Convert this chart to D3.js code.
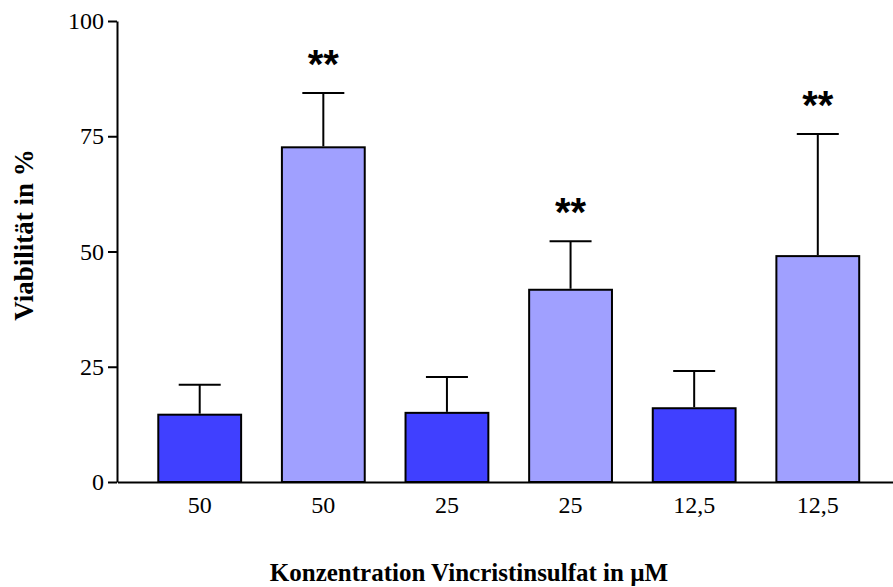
<!DOCTYPE html>
<html>
<head>
<meta charset="utf-8">
<script src="https://cdn.jsdelivr.net/npm/d3@7"></script>
<style>
  body { margin: 0; background: #fff; }
</style>
</head>
<body>
<div class="chart"></div>
<script>
var categories = ["50", "50", "25", "25", "12,5", "12,5"];
var means = [14.6, 72.6, 15.0, 41.7, 16.0, 49.0];
var errors = [6.5, 11.8, 7.8, 10.5, 8.1, 26.5];
var groups = ["dark", "light", "dark", "light", "dark", "light"];
var stars = ["", "**", "", "**", "", "**"];
var yTicks = [0, 25, 50, 75, 100];

var width = 893, height = 587;
var color = d3.scaleOrdinal().domain(["dark", "light"]).range(["#4040FF", "#A0A0FF"]);

var svg = d3.select(".chart").append("svg")
    .attr("width", width)
    .attr("height", height);

var y = d3.scaleLinear().domain([0, 100]).range([482, 21]);
var x = d3.scaleBand()
    .domain(d3.range(categories.length))
    .range([117.5, 900])
    .paddingInner(0.33)
    .paddingOuter(0.33);

var data = means.map(function(m, i) {
    return {i: i, cat: categories[i], mean: m, err: errors[i], group: groups[i], star: stars[i]};
});

// bars
svg.selectAll("rect.bar")
    .data(data)
    .enter().append("rect")
    .attr("class", "bar")
    .attr("x", function(d) { return x(d.i); })
    .attr("y", function(d) { return y(d.mean); })
    .attr("width", x.bandwidth())
    .attr("height", function(d) { return y(0) - y(d.mean); })
    .style("fill", function(d) { return color(d.group); })
    .style("stroke", "#000")
    .style("stroke-width", 2);

// error bars (upper only)
var eb = svg.selectAll("g.err")
    .data(data)
    .enter().append("g")
    .attr("class", "err")
    .attr("transform", function(d) { return "translate(" + (x(d.i) + x.bandwidth() / 2) + ",0)"; });

eb.append("line")
    .attr("x1", 0).attr("x2", 0)
    .attr("y1", function(d) { return y(d.mean) - 1; })
    .attr("y2", function(d) { return y(d.mean + d.err); })
    .style("stroke", "#000").style("stroke-width", 2);

eb.append("line")
    .attr("x1", -21).attr("x2", 21)
    .attr("y1", function(d) { return y(d.mean + d.err); })
    .attr("y2", function(d) { return y(d.mean + d.err); })
    .style("stroke", "#000").style("stroke-width", 2);

eb.append("text")
    .attr("y", function(d) { return y(d.mean + d.err) - 15; })
    .style("text-anchor", "middle")
    .style("font-family", "'Liberation Sans', Arial, sans-serif")
    .style("font-weight", "bold")
    .style("font-size", "40px")
    .text(function(d) { return d.star; });

// axes
var yAxis = svg.append("g")
    .attr("transform", "translate(117,0)")
    .call(d3.axisLeft(y).tickValues(yTicks).tickSize(9).tickSizeOuter(0).tickPadding(4));

var xAxis = svg.append("g")
    .attr("transform", "translate(0," + y(0) + ")")
    .call(d3.axisBottom(x).tickSize(0).tickPadding(14).tickFormat(function(i) { return categories[i]; }));

[yAxis, xAxis].forEach(function(a) {
    a.selectAll("path, line").style("stroke", "#000").style("stroke-width", 2);
    a.selectAll("text")
        .style("font-family", "'Liberation Serif', 'Times New Roman', serif")
        .style("font-size", "24px")
        .style("fill", "#000");
});

// axis titles
svg.append("text")
    .attr("x", 469)
    .attr("y", 581)
    .style("text-anchor", "middle")
    .style("font-family", "'Liberation Serif', 'Times New Roman', serif")
    .style("font-weight", "bold")
    .style("font-size", "25px")
    .text("Konzentration Vincristinsulfat in µM");

svg.append("text")
    .attr("transform", "translate(33,235) rotate(-90)")
    .style("text-anchor", "middle")
    .style("font-family", "'Liberation Serif', 'Times New Roman', serif")
    .style("font-weight", "bold")
    .style("font-size", "27px")
    .text("Viabilität in %");
</script>
</body>
</html>
